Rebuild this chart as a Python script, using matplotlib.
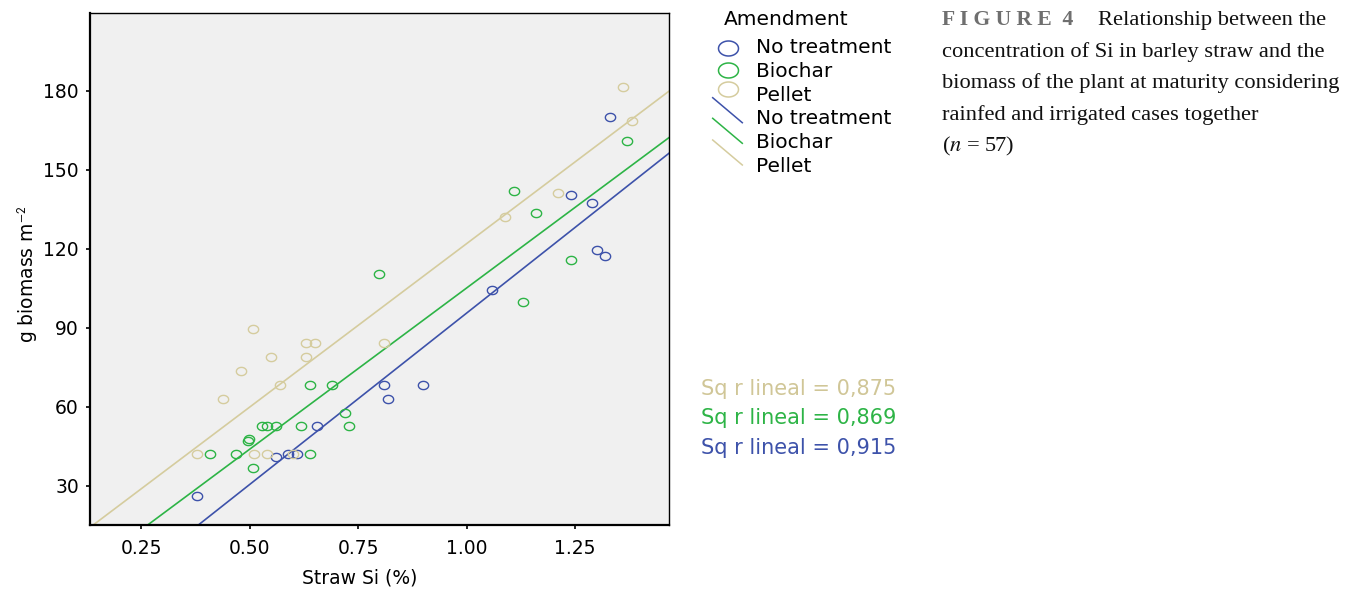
import numpy as np
import matplotlib
matplotlib.use("Agg")
import matplotlib.pyplot as plt
from matplotlib.path import Path
from matplotlib.lines import Line2D

# ---------------- data ----------------
groups = ["No treatment", "Biochar", "Pellet"]

no_treatment_si = [0.378, 0.560, 0.589, 0.608, 0.654, 0.809, 0.819, 0.899,
                   1.059, 1.240, 1.290, 1.300, 1.320, 1.331]
no_treatment_bm = [26.3, 40.9, 42.2, 42.2, 52.7, 68.3, 63.2, 68.3,
                   104.3, 140.6, 137.4, 119.6, 117.2, 170.2]

biochar_si = [0.409, 0.469, 0.497, 0.499, 0.508, 0.529, 0.539, 0.560, 0.619,
              0.639, 0.639, 0.690, 0.719, 0.730, 0.799, 1.110, 1.129, 1.160,
              1.240, 1.371]
biochar_bm = [42.2, 42.2, 47.0, 47.7, 36.9, 52.7, 52.7, 52.7, 52.7,
              68.3, 42.2, 68.3, 57.8, 52.7, 110.6, 142.1, 99.8, 133.7,
              115.7, 160.9]

pellet_si = [0.378, 0.438, 0.479, 0.508, 0.510, 0.539, 0.549, 0.569, 0.599,
             0.629, 0.629, 0.650, 0.809, 1.089, 1.210, 1.360, 1.381]
pellet_bm = [42.2, 63.2, 73.7, 89.5, 42.2, 42.2, 79.0, 68.3, 42.2,
             84.2, 79.0, 84.2, 84.2, 132.0, 141.2, 181.3, 168.5]

# fitted regression lines (slope, intercept) and R^2 labels
fit_slopes = [130.0, 122.3, 124.0]
fit_intercepts = [-34.4, -17.17, -2.04]
r2_labels = ["0,915", "0,869", "0,875"]

x_ticks = [0.25, 0.50, 0.75, 1.00, 1.25]
y_ticks = [30, 60, 90, 120, 150, 180]
x_limits = (0.1317, 1.4674)
y_limits = (15.2, 209.6)

caption_lines = ["Relationship between the",
                 "concentration of Si in barley straw and the",
                 "biomass of the plant at maturity considering",
                 "rainfed and irrigated cases together"]

# ---------------- styling ----------------
colors = ["#3D52AA", "#2DB446", "#D5CC9E"]
bg = "#F0F0F0"
plt.rcParams["mathtext.fontset"] = "stix"

W, H = 1357, 589
fig = plt.figure(figsize=(W / 100, H / 100), dpi=100)


def fx(x):
    return x / W


def fy(y):
    return 1 - y / H


# elliptical ring marker (slightly wider than tall, as in reference)
t = np.linspace(0, 2 * np.pi, 60)


def ellipse_marker(ratio):
    verts = np.column_stack([np.cos(t), ratio * np.sin(t)])
    return Path(verts, closed=True)


plot_marker = ellipse_marker(0.8)
legend_marker = ellipse_marker(0.75)

ax_l, ax_r, ax_t, ax_b = 90, 669.3, 12.7, 525
ax = fig.add_axes([fx(ax_l), fy(ax_b), (ax_r - ax_l) / W, (ax_b - ax_t) / H])
ax.set_facecolor(bg)
ax.set_xlim(*x_limits)
ax.set_ylim(*y_limits)

xs_all = [no_treatment_si, biochar_si, pellet_si]
ys_all = [no_treatment_bm, biochar_bm, pellet_bm]

xline = np.array(x_limits)
for slope, icpt, c in zip(fit_slopes, fit_intercepts, colors):
    ax.plot(xline, slope * xline + icpt, color=c, lw=1.2, zorder=2)

for xs, ys, c in zip(xs_all, ys_all, colors):
    ax.plot(xs, ys, linestyle="none", marker=plot_marker, ms=7.4,
            mfc="none", mec=c, mew=1.0, zorder=3)

ax.set_xticks(x_ticks)
ax.set_xticklabels([f"{v:.2f}" for v in x_ticks])
ax.set_yticks(y_ticks)
ax.tick_params(axis="both", direction="out", length=3, width=1.2,
               labelsize=13.5, colors="black")
ax.tick_params(axis="y", pad=5)
ax.tick_params(axis="x", pad=7)
for side in ["left", "bottom"]:
    ax.spines[side].set_linewidth(1.6)
for side in ["top", "right"]:
    ax.spines[side].set_linewidth(1.0)

ax.set_xlabel("Straw Si (%)", fontsize=13.5, va="center", ha="center")
ax.xaxis.set_label_coords((359.5 - ax_l) / (ax_r - ax_l),
                          (ax_b - 578) / (ax_b - ax_t))
ax.set_ylabel("g biomass m$^{\\mathsf{-2}}$", fontsize=13.5, va="center",
              ha="center")
ax.yaxis.set_label_coords((28 - ax_l) / (ax_r - ax_l),
                          (ax_b - 274) / (ax_b - ax_t))

# ---------------- legend (drawn manually, SPSS style) ----------------
fig.text(fx(723.5), fy(25), "Amendment", fontsize=14.5, va="baseline",
         ha="left")
marker_y = [48.3, 70.0, 89.5]
label_base = [53.3, 77.3, 100.8, 124.3, 148.3, 172.0]
for i, (g, c) in enumerate(zip(groups, colors)):
    fig.add_artist(Line2D([fx(728)], [fy(marker_y[i])], marker=legend_marker,
                          ms=14.4, mfc="none", mec=c, mew=1.1,
                          linestyle="none", transform=fig.transFigure))
    fig.text(fx(756), fy(label_base[i]), g, fontsize=14.5, va="baseline",
             ha="left")
line_tops = [97.7, 118.3, 140.0]
for i, (g, c) in enumerate(zip(groups, colors)):
    y0 = line_tops[i]
    fig.add_artist(Line2D([fx(712.7), fx(742.3)], [fy(y0), fy(y0 + 25)],
                          color=c, lw=1.1, transform=fig.transFigure))
    fig.text(fx(756), fy(label_base[i + 3]), g, fontsize=14.5,
             va="baseline", ha="left")

# ---------------- R^2 annotations ----------------
r2_base = {2: 395.0, 1: 424.5, 0: 454.0}
r2_colors = ["#3D52AA", "#2DB446", "#D0C697"]
for i in [2, 1, 0]:
    fig.text(fx(701.5), fy(r2_base[i]), f"Sq r lineal = {r2_labels[i]}",
             color=r2_colors[i], fontsize=15, va="baseline", ha="left")

# ---------------- caption ----------------
serif = "Liberation Serif"
fig.text(fx(942), fy(25), "F I G U R E  4", family=serif, weight="bold",
         color="#6F6F6F", fontsize=15.6, va="baseline", ha="left")
cap_base = [25, 56.7, 88.3, 120.0]
cap_x = [1097.7, 942, 942, 942]
for line, b, x0 in zip(caption_lines, cap_base, cap_x):
    fig.text(fx(x0), fy(b), line, family=serif, fontsize=16.2,
             va="baseline", ha="left", color="#111111")
fig.text(fx(942), fy(151.7), "($n$ = 57)", family=serif, fontsize=16.2,
         va="baseline", ha="left", color="#111111")

fig.savefig("out.png", dpi=100, facecolor="white")
